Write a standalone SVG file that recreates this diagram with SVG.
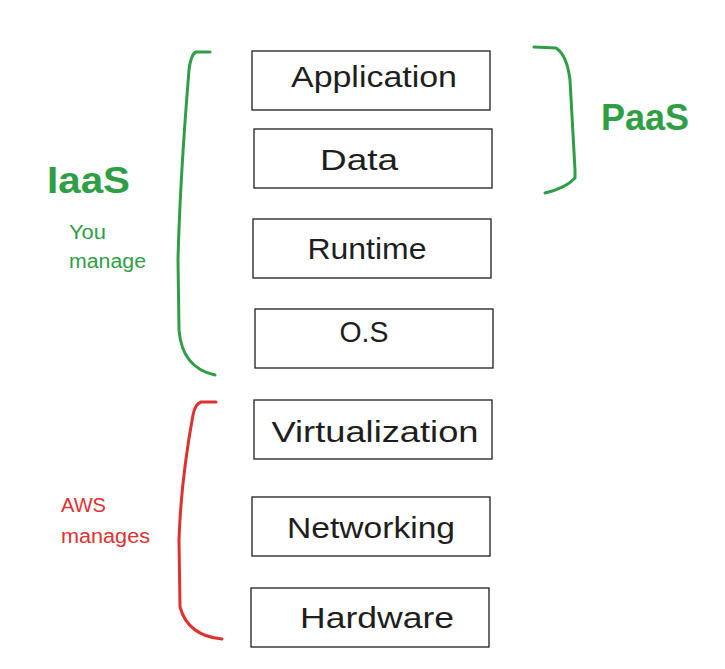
<svg xmlns="http://www.w3.org/2000/svg" width="725" height="669" viewBox="0 0 725 669">
<style>
.box{fill:#fff;stroke:#1e1e1e;stroke-width:1.3}
.lbl{font-family:"Liberation Sans","DejaVu Sans",sans-serif;font-size:29px;fill:#1e1e1e;text-anchor:middle}
.br{fill:none;stroke-width:3;stroke-linecap:round;stroke-linejoin:round}
.g{stroke:#2f9e44}
.r{stroke:#e03131}
.big{font-family:"Liberation Sans","DejaVu Sans",sans-serif;font-weight:bold;font-size:37px;fill:#2f9e44}
.sm{font-family:"Liberation Sans","DejaVu Sans",sans-serif;font-size:20px}
</style>
<rect width="725" height="669" fill="#fff"/>
<g id="application"><rect class="box" x="252" y="51" width="238" height="59"/><text class="lbl" x="374" y="87" textLength="166" lengthAdjust="spacingAndGlyphs">Application</text></g>
<g id="data"><rect class="box" x="254" y="129" width="238" height="59"/><text class="lbl" x="359" y="170" textLength="78" lengthAdjust="spacingAndGlyphs">Data</text></g>
<g id="runtime"><rect class="box" x="253" y="219" width="238" height="59"/><text class="lbl" x="367" y="259" textLength="119" lengthAdjust="spacingAndGlyphs">Runtime</text></g>
<g id="os"><rect class="box" x="255" y="309" width="238" height="59"/><text class="lbl" x="364" y="342" textLength="49" lengthAdjust="spacingAndGlyphs">O.S</text></g>
<g id="virtualization"><rect class="box" x="254" y="400" width="238" height="59"/><text class="lbl" x="375" y="442" textLength="207" lengthAdjust="spacingAndGlyphs">Virtualization</text></g>
<g id="networking"><rect class="box" x="252" y="497" width="238" height="59"/><text class="lbl" x="371" y="538" textLength="168" lengthAdjust="spacingAndGlyphs">Networking</text></g>
<g id="hardware"><rect class="box" x="251" y="588" width="238" height="59"/><text class="lbl" x="377" y="628" textLength="154" lengthAdjust="spacingAndGlyphs">Hardware</text></g>
<g id="connectors">
<path class="br g" d="M210,52 L196,52 Q191,54 189,70 Q180,180 178,260 L179,330 Q182,368 215,375"/>
<path class="br g" d="M534,47 L556,48 Q567,55 570,80 L575,170 L575,178 Q566,188 545,193"/>
<path class="br r" d="M216,402 L201,402 Q195,404 193,415 Q181,480 179,540 L180,607 Q188,636 222,639"/>
</g>
<g id="iaas"><text class="big" x="47" y="193" textLength="83" lengthAdjust="spacingAndGlyphs">IaaS</text></g>
<g id="paas"><text class="big" x="601" y="130" textLength="88" lengthAdjust="spacingAndGlyphs">PaaS</text></g>
<g id="you-manage" fill="#2f9e44"><text class="sm" x="69" y="239" textLength="37" lengthAdjust="spacingAndGlyphs">You</text><text class="sm" x="69" y="268" textLength="77" lengthAdjust="spacingAndGlyphs">manage</text></g>
<g id="aws-manages" fill="#e03131"><text class="sm" x="61" y="512" textLength="45" lengthAdjust="spacingAndGlyphs">AWS</text><text class="sm" x="61" y="543" textLength="89" lengthAdjust="spacingAndGlyphs">manages</text></g>
</svg>
